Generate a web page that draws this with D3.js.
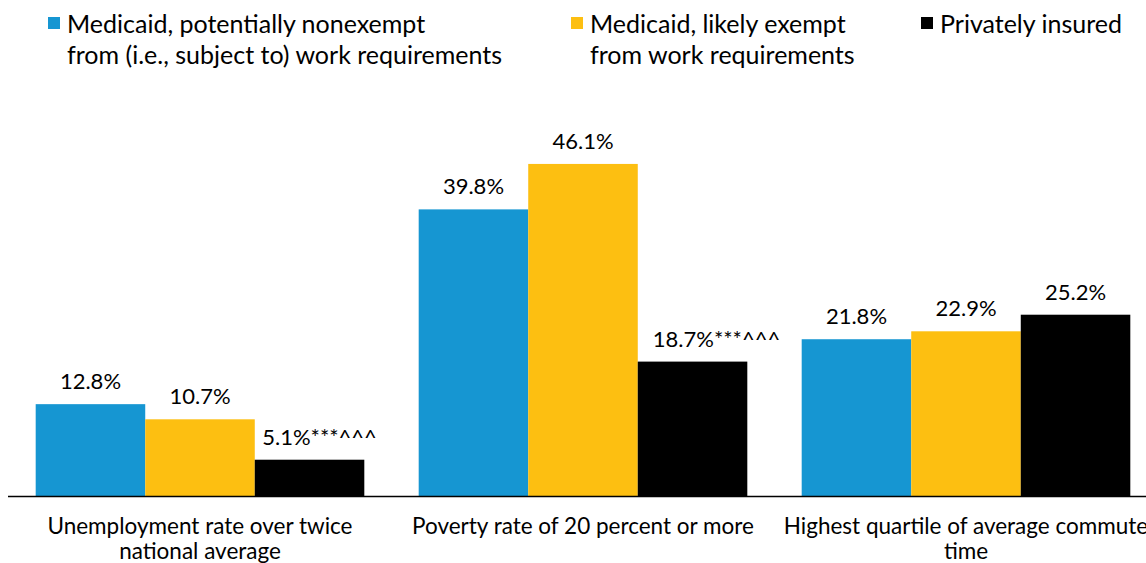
<!DOCTYPE html>
<html><head><meta charset="utf-8">
<script src="https://cdn.jsdelivr.net/npm/d3@7"></script>
<style>body{margin:0;background:#fff}svg{display:block;font-family:Lato,sans-serif}</style>
</head><body><svg id="c" width="1146" height="563"></svg>
<script>
const categories = ["Unemployment rate over twice\nnational average", "Poverty rate of 20 percent or more", "Highest quartile of average commute\ntime"];
const seriesNames = ["Medicaid, potentially nonexempt\nfrom (i.e., subject to) work requirements", "Medicaid, likely exempt\nfrom work requirements", "Privately insured"];
const nonexempt = [12.8, 39.8, 21.8];
const exempt = [10.7, 46.1, 22.9];
const privateIns = [5.1, 18.7, 25.2];
const privateSuffix = ["***^^^", "***^^^", ""];
const colors = ["#1696d2", "#fdbf11", "#000000"];

const series = [nonexempt, exempt, privateIns];
const svg = d3.select("#c");
const x0 = d3.scaleBand().domain(d3.range(categories.length)).range([8.5, 1157.5]).paddingInner(0.142).paddingOuter(0.071);
const x1 = d3.scaleBand().domain(d3.range(series.length)).range([0, x0.bandwidth()]);
const y = d3.scaleLinear().domain([0, 50]).range([496.5, 135.8]);

const data = [];
series.forEach((s, si) => s.forEach((v, ci) => data.push({si, ci, v,
  label: d3.format(".1f")(v) + "%" + (si === 2 ? privateSuffix[ci] : "")})));

svg.append("g").selectAll("rect").data(data).join("rect")
  .attr("x", d => x0(d.ci) + x1(d.si))
  .attr("y", d => y(d.v))
  .attr("width", x1.bandwidth())
  .attr("height", d => y(0) - y(d.v))
  .attr("fill", d => colors[d.si]);

const suffixShift = [10, 24, 0];
svg.append("g").selectAll("text").data(data).join("text")
  .attr("x", d => x0(d.ci) + x1(d.si) + x1.bandwidth() / 2 + (d.si === 2 ? suffixShift[d.ci] : 0))
  .attr("y", d => y(d.v) - 15)
  .attr("text-anchor", "middle")
  .attr("font-size", 22)
  .attr("fill", "#000")
  .text(d => d.label);

// axis
const xAxis = d3.axisBottom(x0).tickSize(0).tickFormat("");
const ax = svg.append("g").attr("transform", `translate(0,${y(0)})`).call(xAxis);
ax.select(".domain").attr("stroke", "#000").attr("stroke-width", 1.5).attr("d", `M8,0H1146`);
const catG = svg.append("g");
categories.forEach((c, i) => {
  const t = catG.append("text").attr("x", x0(i) + x0.bandwidth() / 2).attr("y", 534)
    .attr("text-anchor", "middle").attr("font-size", 22.5).attr("fill", "#000");
  c.split("\n").forEach((ln, k) => t.append("tspan").attr("x", x0(i) + x0.bandwidth() / 2).attr("dy", k ? 25 : 0).text(ln));
});

// legend
const legX = [48, 571, 921];
seriesNames.forEach((n, i) => {
  const g = svg.append("g").attr("transform", `translate(${legX[i]},0)`);
  g.append("rect").attr("x", 0).attr("y", 17).attr("width", 12).attr("height", 12).attr("fill", colors[i]);
  const t = g.append("text").attr("x", 19).attr("y", 33).attr("font-size", 25).attr("fill", "#000");
  n.split("\n").forEach((ln, k) => t.append("tspan").attr("x", 19).attr("dy", k ? 31 : 0).text(ln));
});
</script></body></html>
